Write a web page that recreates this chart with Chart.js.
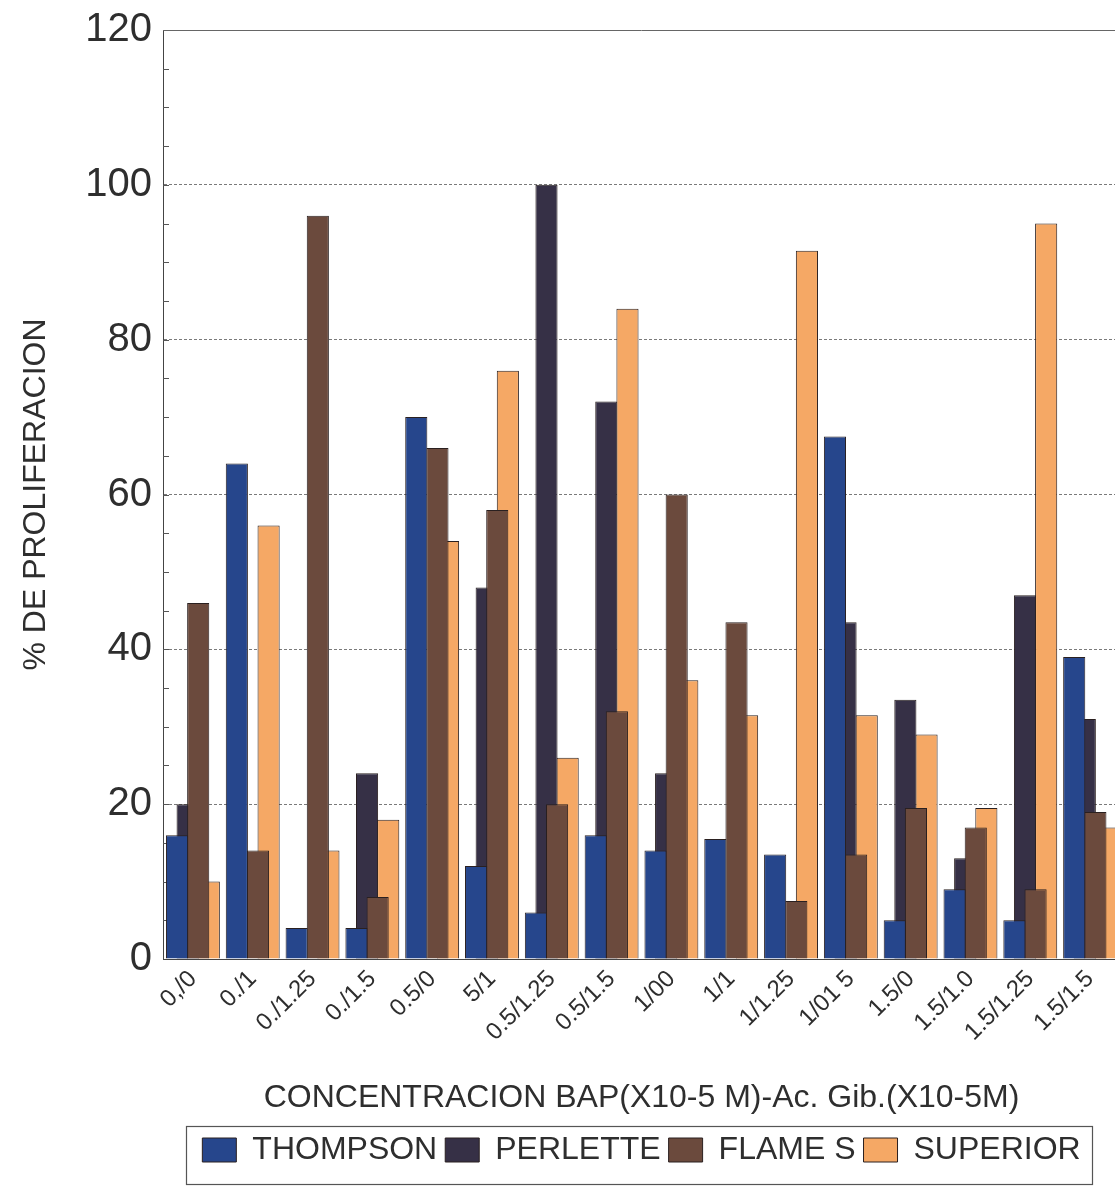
<!DOCTYPE html>
<html>
<head>
<meta charset="utf-8">
<script src="https://cdn.jsdelivr.net/npm/chart.js@4.4.1/dist/chart.umd.min.js"></script>
<style>
  html, body { margin: 0; padding: 0; background: #fff; overflow: hidden; }
  #wrap { width: 1125px; height: 1186px; }
</style>
</head>
<body>
<div id="wrap"><canvas id="c" width="1125" height="1186"></canvas></div>
<script>
// Treatments: BAP / gibberellic acid concentrations
const categories = ['0,/0', '0./1', '0./1.25', '0./1.5', '0.5/0', '5/1', '0.5/1.25', '0.5/1.5',
                    '1/00', '1/1', '1/1.25', '1/01 5', '1.5/0', '1.5/1.0', '1.5/1.25', '1.5/1.5'];

// % proliferation per variety
const thompson  = [16, 64, 4, 4, 70, 12, 6, 16, 14, 15.5, 13.5, 67.5, 5, 9, 5, 39];
const perlette  = [20, 0, 0, 24, 0, 48, 100, 72, 24, 0, 0, 43.5, 33.5, 13, 47, 31];
const flameS    = [46, 14, 96, 8, 66, 58, 20, 32, 60, 43.5, 7.5, 13.5, 19.5, 17, 9, 19];
const superior  = [10, 56, 14, 18, 54, 76, 26, 84, 36, 31.5, 91.5, 31.5, 29, 19.5, 95, 17];

const yTicks = [0, 20, 40, 60, 80, 100, 120];

const FONT = "'Liberation Sans', Arial, Helvetica, sans-serif";
const TEXT = '#2e2e2e';
const SHIFT = 0.177;   // spacing between overlapping bars, as a fraction of one category

// Overlapping bars: each series is moved sideways by a fixed share of the category band
const overlapBars = {
  id: 'overlapBars',
  afterDatasetsUpdate(chart) {
    const xs = chart.scales.x;
    const band = xs.getPixelForValue(1) - xs.getPixelForValue(0);
    const n = chart.data.datasets.length;
    chart.data.datasets.forEach((ds, i) => {
      chart.getDatasetMeta(i).data.forEach(el => {
        el.x += (i - (n - 1) / 2) * SHIFT * band;
      });
    });
  }
};

// Plot frame, inner minor ticks on the value axis and the box round the legend
const frame = {
  id: 'frame',
  beforeDatasetsDraw(chart) {
    const { ctx, chartArea: a, scales: { y } } = chart;
    ctx.save();
    ctx.strokeStyle = '#666';
    ctx.lineWidth = 1;
    ctx.beginPath();
    ctx.moveTo(a.left, a.top + 0.5);
    ctx.lineTo(a.right, a.top + 0.5);
    ctx.lineTo(a.right - 0.5, a.bottom);
    ctx.stroke();
    ctx.strokeStyle = '#555';
    ctx.beginPath();
    for (let v = 5; v < 120; v += 5) {
      const py = Math.round(y.getPixelForValue(v)) + 0.5;
      ctx.moveTo(a.left, py);
      ctx.lineTo(a.left + 6, py);
    }
    ctx.stroke();
    ctx.restore();
  },
  afterDraw(chart) {
    const lg = chart.legend;
    if (!lg || !lg.legendHitBoxes || !lg.legendHitBoxes.length) return;
    const hb = lg.legendHitBoxes;
    const left = Math.min(...hb.map(h => h.left)) - 16;
    const right = Math.max(...hb.map(h => h.left + h.width)) + 12;
    const { ctx } = chart;
    ctx.save();
    ctx.strokeStyle = '#555';
    ctx.lineWidth = 1.2;
    ctx.strokeRect(Math.round(left) + 0.5, Math.round(lg.top) + 0.5, Math.round(right - left), chart.height - Math.round(lg.top) - 2);
    ctx.restore();
  }
};

const series = [
  { label: 'THOMPSON', data: thompson, color: '#26468c', order: 0 },
  { label: 'PERLETTE', data: perlette, color: '#363046', order: 3 },
  { label: 'FLAME S',  data: flameS,   color: '#6b4a3d', order: 1 },
  { label: 'SUPERIOR', data: superior, color: '#f5a865', order: 2 }
];

new Chart(document.getElementById('c'), {
  type: 'bar',
  data: {
    labels: categories,
    datasets: series.map(s => ({
      label: s.label,
      data: s.data,
      backgroundColor: s.color,
      borderColor: '#2a2020',
      borderWidth: 1,
      order: s.order,
      grouped: false,
      categoryPercentage: 1,
      barPercentage: 0.37
    }))
  },
  options: {
    responsive: false,
    animation: false,
    events: [],
    devicePixelRatio: 1,
    layout: { padding: { top: 30, left: 0, right: 5, bottom: 10 } },
    plugins: {
      tooltip: { enabled: false },
      legend: {
        position: 'bottom',
        fullSize: false,
        labels: {
          sort: (a, b) => a.datasetIndex - b.datasetIndex,
          font: { family: FONT, size: 32 },
          color: TEXT,
          boxWidth: 34,
          boxHeight: 24,
          padding: 8
        }
      }
    },
    scales: {
      x: {
        offset: true,
        grid: { display: false, drawTicks: false },
        border: { display: true, color: '#444', width: 1 },
        ticks: {
          autoSkip: false,
          minRotation: 45,
          maxRotation: 45,
          padding: 6,
          color: TEXT,
          font: { family: FONT, size: 24 }
        },
        title: {
          display: true,
          text: 'CONCENTRACION BAP(X10-5 M)-Ac. Gib.(X10-5M)',
          color: TEXT,
          font: { family: FONT, size: 32 },
          padding: { top: 0, bottom: 9 }
        },
        afterFit(scale) { scale.height = 167; }
      },
      y: {
        min: 0,
        max: 120,
        afterBuildTicks(scale) { scale.ticks = yTicks.map(v => ({ value: v })); },
        grid: {
          drawTicks: false,
          color: ctx => (ctx.tick && ctx.tick.value > 0 && ctx.tick.value < 120) ? '#7a7a7a' : 'rgba(0,0,0,0)',
          lineWidth: 1
        },
        border: { display: true, color: '#444', width: 1, dash: [3, 2] },
        ticks: {
          padding: 11,
          color: TEXT,
          font: { family: FONT, size: 40 }
        },
        title: {
          display: true,
          text: '% DE PROLIFERACION',
          color: TEXT,
          font: { family: FONT, size: 32 },
          padding: { top: 17, bottom: 0 }
        },
        afterFit(scale) {
          scale.width = 163;
          scale.paddingTop = 0;
          scale.paddingBottom = 0;
        }
      }
    }
  },
  plugins: [overlapBars, frame]
});
</script>
</body>
</html>
